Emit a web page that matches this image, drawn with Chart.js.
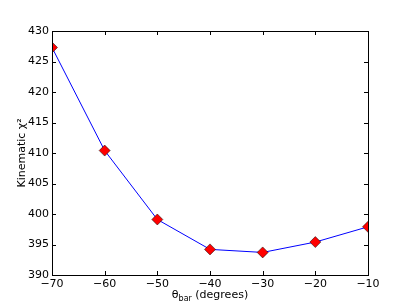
<!DOCTYPE html>
<html>
<head>
<meta charset="utf-8">
<script src="https://cdn.jsdelivr.net/npm/chart.js@4"></script>
<style>
  html, body { margin: 0; padding: 0; background: #fff; }
  #wrap { width: 409px; height: 307px; }
</style>
</head>
<body>
<div id="wrap"><canvas id="chart" width="409" height="307"></canvas></div>
<script>
// Data
const thetaBar = [-70, -60, -50, -40, -30, -20, -10];
const chi2 = [427.3, 410.4, 399.1, 394.2, 393.7, 395.4, 397.9];

// Axis ranges
const xRange = [-70, -10];
const yRange = [390, 430];

const FONT = 'DejaVu Sans';
const SIZE = 11;

// minus sign like matplotlib
const fmt = v => String(v).replace('-', '\u2212');

// box + inward ticks + subscripted x title
const frame = {
  id: 'frame',
  afterDraw(chart) {
    const { ctx, chartArea: a, scales } = chart;
    ctx.save();
    ctx.strokeStyle = '#000';
    ctx.lineWidth = 1;
    ctx.strokeRect(Math.round(a.left) + 0.5, Math.round(a.top) + 0.5,
      Math.round(a.right - a.left), Math.round(a.bottom - a.top));

    const len = 4;
    ctx.beginPath();
    scales.x.ticks.forEach(t => {
      const px = Math.round(scales.x.getPixelForValue(t.value)) + 0.5;
      ctx.moveTo(px, a.bottom); ctx.lineTo(px, a.bottom - len);
      ctx.moveTo(px, a.top); ctx.lineTo(px, a.top + len);
    });
    scales.y.ticks.forEach(t => {
      const py = Math.round(scales.y.getPixelForValue(t.value)) + 0.5;
      ctx.moveTo(a.left, py); ctx.lineTo(a.left + len, py);
      ctx.moveTo(a.right, py); ctx.lineTo(a.right - len, py);
    });
    ctx.stroke();

    // x title: θ_bar (degrees)
    const cx = (a.left + a.right) / 2;
    const y = 298;
    const big = SIZE + 'px "' + FONT + '"';
    const small = '8px "' + FONT + '"';
    ctx.fillStyle = '#000';
    ctx.textBaseline = 'alphabetic';
    ctx.textAlign = 'left';
    ctx.font = big;
    const w1 = ctx.measureText('\u03b8').width;
    const w3 = ctx.measureText(' (degrees)').width;
    ctx.font = small;
    const w2 = ctx.measureText('bar').width;
    let x = cx - (w1 + w2 + w3) / 2;
    ctx.font = big;
    ctx.fillText('\u03b8', x, y);
    ctx.font = small;
    ctx.fillText('bar', x + w1, y + 2.5);
    ctx.font = big;
    ctx.fillText(' (degrees)', x + w1 + w2, y);
    ctx.restore();
  }
};

const ctx = document.getElementById('chart').getContext('2d');

new Chart(ctx, {
  type: 'line',
  data: {
    datasets: [{
      data: thetaBar.map((t, i) => ({ x: t, y: chi2[i] })),
      borderColor: '#0000ff',
      borderWidth: 1,
      backgroundColor: '#ff0000',
      pointStyle: 'rectRot',
      pointRadius: 5.5,
      pointBorderColor: '#000',
      pointBorderWidth: 0.5,
      pointBackgroundColor: '#ff0000',
      tension: 0
    }]
  },
  options: {
    responsive: false,
    animation: false,
    devicePixelRatio: 1,
    layout: { padding: { left: 0, right: 41, top: 31, bottom: 0 } },
    plugins: {
      legend: { display: false },
      tooltip: { enabled: false }
    },
    scales: {
      x: {
        type: 'linear',
        min: xRange[0],
        max: xRange[1],
        grid: { display: false, drawTicks: false, tickLength: 0 },
        border: { display: false },
        ticks: {
          stepSize: 10,
          padding: 3,
          color: '#000',
          font: { family: FONT, size: SIZE },
          callback: v => fmt(v)
        },
        afterFit: s => { s.height = 32; }
      },
      y: {
        min: yRange[0],
        max: yRange[1],
        grid: { display: false, drawTicks: false, tickLength: 0 },
        border: { display: false },
        title: {
          display: true,
          text: 'Kinematic \u03c7\u00b2',
          color: '#000',
          font: { family: FONT, size: SIZE },
          padding: { top: 16, bottom: 0 }
        },
        ticks: {
          stepSize: 5,
          padding: 3,
          color: '#000',
          font: { family: FONT, size: SIZE },
          callback: v => fmt(v)
        },
        afterFit: s => { s.width = 52; }
      }
    }
  },
  plugins: [frame]
});
</script>
</body>
</html>
